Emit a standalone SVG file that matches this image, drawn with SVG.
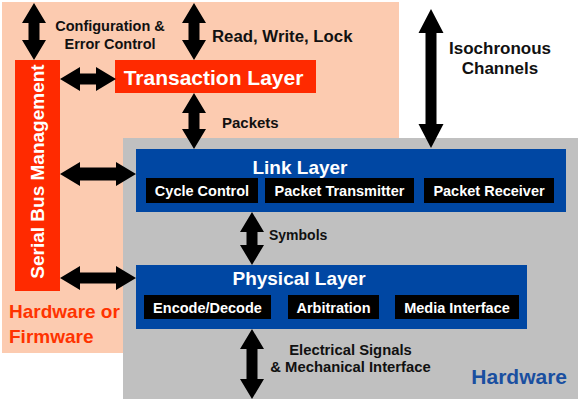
<svg xmlns="http://www.w3.org/2000/svg" width="580" height="401" viewBox="0 0 580 401">
<style>
text{font-family:"Liberation Sans",Arial,sans-serif;font-weight:bold}
.lbl{fill:#111;font-size:14.5px}
.big{fill:#fff;font-size:19px}
.sub{fill:#fff;font-size:14.5px;text-anchor:middle}
.blue{fill:#0047a3}
.blk{fill:#000}
.red{fill:#ff2a00}
.arr{fill:#000}
</style>
<rect x="0" y="0" width="580" height="401" fill="#fff"/>
<rect id="sw-region" x="2" y="2" width="397" height="351" fill="#fccbb0"/>
<rect id="hw-region" x="123" y="138" width="455" height="261" fill="#c0c0c0"/>

<g id="serial-bus-management">
<rect class="red" x="15" y="60" width="45" height="231"/>
<text class="big" transform="translate(44,171.5) rotate(-90)" text-anchor="middle">Serial Bus Management</text>
</g>

<g id="transaction-layer">
<rect class="red" x="115" y="60" width="201" height="33"/>
<text class="big" x="213.5" y="85" text-anchor="middle" style="font-size:21px">Transaction Layer</text>
</g>

<g id="link-layer">
<rect class="blue" x="136" y="149" width="430" height="63"/>
<text class="big" x="300" y="174" text-anchor="middle">Link Layer</text>
<rect class="blk" x="146" y="178" width="112" height="25"/>
<text class="sub" x="202" y="196">Cycle Control</text>
<rect class="blk" x="265" y="178" width="149" height="25"/>
<text class="sub" x="339.5" y="196">Packet Transmitter</text>
<rect class="blk" x="424" y="178" width="130" height="25"/>
<text class="sub" x="489" y="196">Packet Receiver</text>
</g>

<g id="physical-layer">
<rect class="blue" x="136" y="265" width="391" height="64"/>
<text class="big" x="299" y="285" text-anchor="middle">Physical Layer</text>
<rect class="blk" x="144" y="295" width="127" height="24"/>
<text class="sub" x="207.5" y="313">Encode/Decode</text>
<rect class="blk" x="288" y="295" width="91" height="24"/>
<text class="sub" x="333.5" y="313">Arbitration</text>
<rect class="blk" x="395" y="295" width="124" height="24"/>
<text class="sub" x="457" y="313">Media Interface</text>
</g>

<g id="connectors">
<polygon class="arr" points="34,3 46,23 39.5,23 39.5,40 46,40 34,60 22,40 28.5,40 28.5,23 22,23"/>
<polygon class="arr" points="194,3 206,23 199.5,23 199.5,40 206,40 194,60 182,40 188.5,40 188.5,23 182,23"/>
<polygon class="arr" points="60,79 80,67 80,73.5 96,73.5 96,67 116,79 96,91 96,84.5 80,84.5 80,91"/>
<polygon class="arr" points="194,93 206,113 199.5,113 199.5,129 206,129 194,149 182,129 188.5,129 188.5,113 182,113"/>
<polygon class="arr" points="431,9 443.5,33 436.5,33 436.5,124 443.5,124 431,148 418.5,124 425.5,124 425.5,33 418.5,33"/>
<polygon class="arr" points="60,174 80,162 80,167.5 116,167.5 116,162 136,174 116,186 116,180.5 80,180.5 80,186"/>
<polygon class="arr" points="252,212 264,232 257.5,232 257.5,245 264,245 252,265 240,245 246.5,245 246.5,232 240,232"/>
<polygon class="arr" points="60,278 80,266 80,272.5 116,272.5 116,266 136,278 116,290 116,283.5 80,283.5 80,290"/>
<polygon class="arr" points="252,329 264,349 257.5,349 257.5,379 264,379 252,399 240,379 246.5,379 246.5,349 240,349"/>
</g>

<g id="labels">
<text class="lbl" x="110" y="30.5" text-anchor="middle">Configuration &amp;</text>
<text class="lbl" x="110" y="48.5" text-anchor="middle">Error Control</text>
<text class="lbl" x="212" y="41.5" style="font-size:16.8px">Read, Write, Lock</text>
<text class="lbl" x="222" y="127.5" style="font-size:15px">Packets</text>
<text class="lbl" x="500" y="54" text-anchor="middle" style="font-size:17px">Isochronous</text>
<text class="lbl" x="500" y="74" text-anchor="middle" style="font-size:17px">Channels</text>
<text class="lbl" x="269" y="239.5" style="font-size:14px">Symbols</text>
<text class="lbl" x="350.5" y="355" text-anchor="middle" style="font-size:14.8px">Electrical Signals</text>
<text class="lbl" x="350.5" y="371.5" text-anchor="middle" style="font-size:14.8px">&amp; Mechanical Interface</text>
<text x="9" y="318" style="font-size:19px;fill:#ff3300">Hardware or</text>
<text x="9" y="342.5" style="font-size:19px;fill:#ff3300">Firmware</text>
<text x="567" y="384" text-anchor="end" style="font-size:21px;fill:#1a4fa0">Hardware</text>
</g>
</svg>
